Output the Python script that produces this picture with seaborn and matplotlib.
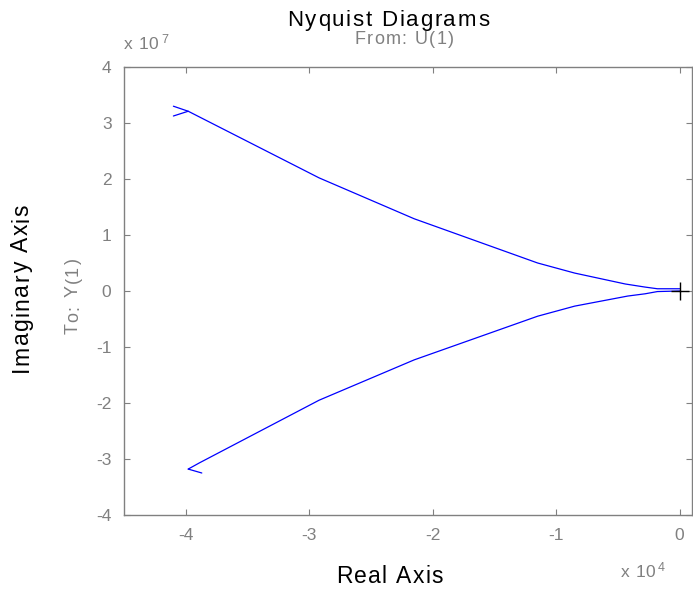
import matplotlib
matplotlib.use("Agg")
import matplotlib.pyplot as plt
import seaborn as sns
import pandas as pd

# Real part in units of 1e4, imaginary part in units of 1e7
upper_re = [-4.10, -3.98, -2.92, -2.15, -1.15, -0.85, -0.44, -0.28, -0.18, 0.0]
upper_im = [3.30, 3.21, 2.02, 1.29, 0.50, 0.32, 0.125, 0.07, 0.04, 0.04]
lower_re = [0.0, -0.18, -0.28, -0.42, -0.85, -1.15, -2.15, -2.92, -3.89, -3.98]
lower_im = [0.0, -0.01, -0.05, -0.09, -0.27, -0.45, -1.23, -1.95, -3.07, -3.18]
barb_up_re = [-4.10, -3.98]
barb_up_im = [3.125, 3.21]
barb_lo_re = [-3.98, -3.87]
barb_lo_im = [-3.18, -3.25]

x_ticks = [-4, -3, -2, -1, 0]
y_ticks = [-4, -3, -2, -1, 0, 1, 2, 3, 4]

sns.set_style("ticks")
plt.rcParams['font.family'] = ['Liberation Sans', 'DejaVu Sans']

W, H = 693, 590
fig = plt.figure(figsize=(W / 100, H / 100), dpi=100)
ax = fig.add_axes([124/W, 1-515/H, (692-124)/W, (515-67)/H])

gray = "#808080"
blue = "#0000ff"

def seg(xs, ys):
    df = pd.DataFrame({"re": xs, "im": ys})
    sns.lineplot(data=df, x="re", y="im", sort=False, estimator=None,
                 color=blue, linewidth=0.9, ax=ax)

seg(upper_re, upper_im)
seg(lower_re, lower_im)
seg(barb_up_re, barb_up_im)
seg(barb_lo_re, barb_lo_im)
ax.plot([0], [0], marker="+", color="black", markersize=13, markeredgewidth=1.0)

ax.set_xlim(-4.5, 0.1)
ax.set_ylim(-4, 4)
ax.set_xticks(x_ticks)
ax.set_yticks(y_ticks)
ax.set_xticklabels([str(t) for t in x_ticks])
ax.set_yticklabels([str(t) for t in y_ticks])
ax.tick_params(direction="in", top=True, right=True, colors=gray,
               labelsize=12.5, length=4, width=0.8, pad=9)
for s in ax.spines.values():
    s.set_color(gray)
    s.set_linewidth(1.0)
ax.set_xlabel("")
ax.set_ylabel("")

renderer = fig.canvas.get_renderer()

def char_w(c, size):
    if c == " ":
        t1 = fig.text(0, 0, "x x", fontsize=size)
        t2 = fig.text(0, 0, "xx", fontsize=size)
        w = t1.get_window_extent(renderer).width - t2.get_window_extent(renderer).width
        t1.remove(); t2.remove()
        return w
    t = fig.text(0, 0, c, fontsize=size)
    w = t.get_window_extent(renderer).width
    t.remove()
    return w

def tracked(s, cx, base, size, color, total):
    widths = [char_w(c, size) for c in s]
    track = (total - sum(widths)) / (len(s) - 1)
    pos = cx - total / 2
    for c, w in zip(s, widths):
        if c != " ":
            fig.text(pos / W, 1 - base / H, c, ha="left", va="baseline",
                     fontsize=size, color=color)
        pos += w + track

def tracked_v(s, cy, base_x, size, color, total):
    widths = [char_w(c, size) for c in s]
    track = (total - sum(widths)) / (len(s) - 1)
    pos = cy + total / 2
    for c, w in zip(s, widths):
        if c != " ":
            fig.text(base_x / W, 1 - pos / H, c, ha="left", va="baseline",
                     fontsize=size, color=color, rotation=90,
                     rotation_mode="anchor")
        pos -= w + track

tracked("Nyquist Diagrams", 388, 26, 16, "black", 202)
tracked("From: U(1)", 404, 44, 13, gray, 99)
tracked("Real Axis", 389.5, 583, 16.5, "black", 107)
tracked_v("Imaginary Axis", 288.5, 28, 16.5, "black", 168)
tracked_v("To: Y(1)", 296, 78, 13, gray, 76)

tracked("x 10", 141, 49, 12.5, gray, 34)
fig.text(161/W, 1-43/H, "7", ha="left", va="baseline", fontsize=9, color=gray)
tracked("x 10", 638, 577, 12.5, gray, 34)
fig.text(658/W, 1-571/H, "4", ha="left", va="baseline", fontsize=9, color=gray)

fig.savefig("out.png", dpi=100)
